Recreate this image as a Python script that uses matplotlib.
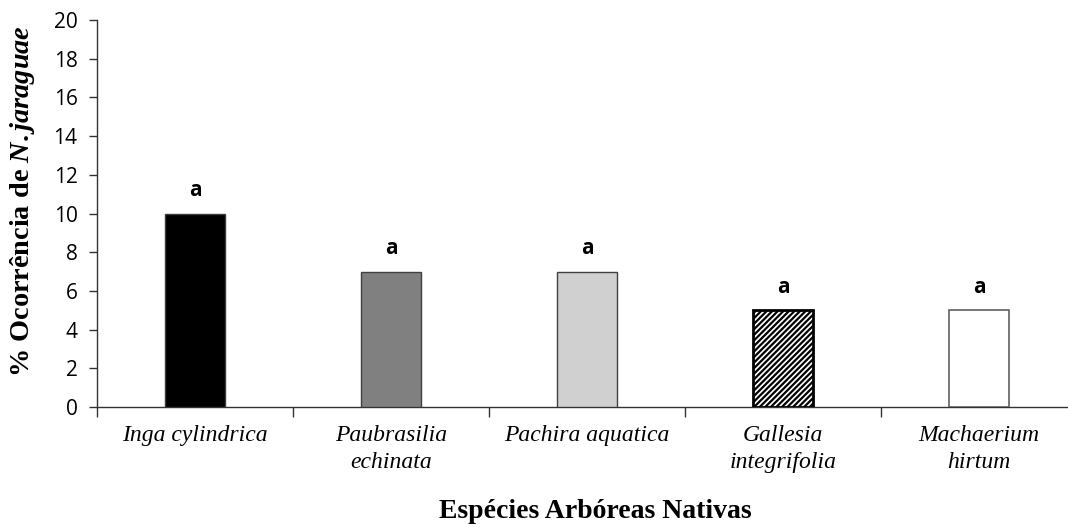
import matplotlib
matplotlib.use("Agg")
import matplotlib.pyplot as plt
import numpy as np

categories = ["Inga cylindrica", "Paubrasilia\nechinata", "Pachira aquatica",
              "Gallesia\nintegrifolia", "Machaerium\nhirtum"]
values = [10, 7, 7, 5, 5]
letters = ["a", "a", "a", "a", "a"]
yticks = [0, 2, 4, 6, 8, 10, 12, 14, 16, 18, 20]

plt.rcParams['mathtext.fontset'] = 'custom'
plt.rcParams['mathtext.rm'] = 'Liberation Serif:bold'
plt.rcParams['mathtext.bf'] = 'Liberation Serif:bold'
plt.rcParams['mathtext.it'] = 'Liberation Serif:italic:bold'
plt.rcParams['hatch.linewidth'] = 1.6

fig = plt.figure(figsize=(10.68, 5.26), dpi=100)
ax = fig.add_axes([97/1068, 119/526, 980/1068, 387/526])

x = np.arange(len(categories))
faces = ["#000000", "#808080", "#d0d0d0", "#ffffff", "#ffffff"]
edges = ["#3a3a3a", "#404040", "#404040", "#000000", "#606060"]
lws = [1.0, 1.0, 1.0, 2.0, 1.2]
hatches = [None, None, None, "//////", None]
for xi, v, fc, ec, lw, h in zip(x, values, faces, edges, lws, hatches):
    ax.bar(xi, v, width=0.31, color=fc, edgecolor=ec, linewidth=lw, hatch=h, zorder=3)

for xi, v, t in zip(x, values, letters):
    ax.annotate(t, (xi, v), xytext=(0, 9), textcoords="offset points",
                ha="center", va="bottom", fontsize=15, fontweight="bold",
                family="Open Sans")

ax.set_xlim(-0.5, len(categories) - 0.5)
ax.set_ylim(0, 20)
ax.set_yticks(yticks)
ax.set_yticklabels([str(t) for t in yticks], fontsize=15, family="Open Sans")
ax.set_xticks(x)
ax.set_xticklabels(categories, fontsize=17, family="Liberation Serif", style="italic",
                   linespacing=1.4)
ax.set_xticks(np.arange(len(categories) + 1) - 0.5, minor=True)
ax.tick_params(axis="x", which="major", length=0, pad=13)
ax.tick_params(axis="x", which="minor", length=7, direction="out", color="#333333", width=1)
ax.tick_params(axis="y", length=6, direction="out", color="#333333", width=1, pad=8)

for s in ["top", "right"]:
    ax.spines[s].set_visible(False)
for s in ["left", "bottom"]:
    ax.spines[s].set_color("#333333")
    ax.spines[s].set_linewidth(1.0)

ax.set_ylabel(r"$\mathbf{\%\ Ocorrência\ de\ }\mathit{N.jaraguae}$", fontsize=20.3)
ax.yaxis.set_label_coords((37 - 97) / 980, (407 - 201) / 387)
fig.text(595/1068, 1 - 511/526, "Espécies Arbóreas Nativas", ha="center", va="center",
         fontsize=20, fontweight="bold", family="Liberation Serif")

fig.savefig("out.png", dpi=100)
